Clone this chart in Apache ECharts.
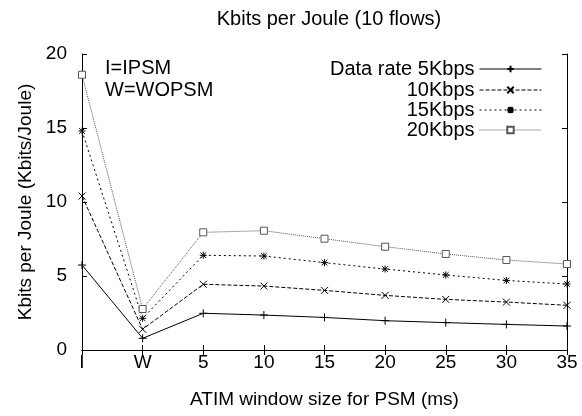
<!DOCTYPE html>
<html>
<head>
<meta charset="utf-8">
<script src="https://cdn.jsdelivr.net/npm/echarts@6/dist/echarts.min.js"></script>
<style>
  html, body { margin: 0; padding: 0; background: #fff; }
  #main { width: 582px; height: 416px; }
</style>
</head>
<body>
<div id="main"></div>
<script>
const categories = ["I", "W", "5", "10", "15", "20", "25", "30", "35"]
const rate5 = [5.74, 0.79, 2.48, 2.36, 2.2, 1.98, 1.85, 1.73, 1.62]
const rate10 = [10.4, 1.4, 4.44, 4.32, 4.03, 3.69, 3.42, 3.24, 3.02]
const rate15 = [14.8, 2.14, 6.4, 6.35, 5.9, 5.47, 5.07, 4.7, 4.46]
const rate20 = [18.6, 2.77, 7.95, 8.06, 7.52, 6.98, 6.49, 6.08, 5.81]
const seriesNames = ["Data rate 5Kbps", "10Kbps", "15Kbps", "20Kbps"]

const FONT = "Liberation Sans, Arial, Helvetica, sans-serif"

const plusPath = "path://M0,5L10,5M5,0L5,10"
const crossPath = "path://M0,0L10,10M10,0L0,10"
const starPath = "path://M0,5L10,5M5,0L5,10M1,1L9,9M9,1L1,9"

function makeSeries(name, data, symbol, size, color, dash, fill) {
  return {
    name: name,
    type: "line",
    data: data,
    symbol: symbol,
    symbolSize: size,
    showAllSymbol: true,
    lineStyle: { color: color, width: 1, type: dash },
    itemStyle: { color: fill, borderColor: color, borderWidth: 1 },
    emphasis: { disabled: true },
    animation: false,
  }
}

// one legend per row so every label is right aligned like gnuplot's key
function legendRow(name, top) {
  return {
    data: [name],
    right: 40,
    top: top,
    padding: 0,
    orient: "vertical",
    align: "right",
    itemWidth: 62,
    itemHeight: 8,
    itemGap: 0,
    selectedMode: false,
    lineStyle: { width: 1 },
    textStyle: { fontFamily: FONT, fontSize: 20, color: "#000" },
  }
}

let myChart = echarts.init(document.getElementById("main"))
myChart.setOption({
  backgroundColor: "#fff",
  title: {
    text: "Kbits per Joule (10 flows)",
    left: 324,
    top: 4,
    textAlign: "center",
    textStyle: { fontFamily: FONT, fontSize: 20, fontWeight: "normal", color: "#000" },
  },
  legend: [
    legendRow(seriesNames[0], 59),
    legendRow(seriesNames[1], 80),
    legendRow(seriesNames[2], 100),
    legendRow(seriesNames[3], 120),
  ],
  grid: { left: 82, right: 15, top: 54, bottom: 66 },
  xAxis: [
    {
      type: "category",
      data: categories,
      boundaryGap: false,
      name: "ATIM window size for PSM (ms)",
      nameLocation: "middle",
      nameGap: 40,
      nameTextStyle: { fontFamily: FONT, fontSize: 19, color: "#000" },
      axisLine: { lineStyle: { color: "#000", width: 1 } },
      axisTick: { inside: true, length: 5, alignWithLabel: true, lineStyle: { color: "#000" } },
      axisLabel: { fontFamily: FONT, fontSize: 19, color: "#000", margin: 3 },
      splitLine: { show: false },
    },
    {
      type: "category",
      data: categories,
      boundaryGap: false,
      position: "top",
      axisLine: { lineStyle: { color: "#000", width: 1 } },
      axisTick: { inside: true, length: 5, lineStyle: { color: "#000" } },
      axisLabel: { show: false },
      splitLine: { show: false },
    },
  ],
  yAxis: [
    {
      type: "value",
      min: 0,
      max: 20,
      interval: 5,
      name: "Kbits per Joule (Kbits/Joule)",
      nameLocation: "middle",
      nameRotate: 90,
      nameGap: 39,
      nameTextStyle: { fontFamily: FONT, fontSize: 19, color: "#000" },
      axisLine: { show: true, lineStyle: { color: "#000", width: 1 } },
      axisTick: { show: true, inside: true, length: 5, lineStyle: { color: "#000" } },
      axisLabel: { fontFamily: FONT, fontSize: 19, color: "#000", margin: 15 },
      splitLine: { show: false },
    },
    {
      type: "value",
      min: 0,
      max: 20,
      interval: 5,
      position: "right",
      axisLine: { show: true, lineStyle: { color: "#000", width: 1 } },
      axisTick: { show: true, inside: true, length: 5, lineStyle: { color: "#000" } },
      axisLabel: { show: false },
      splitLine: { show: false },
    },
  ],
  graphic: [
    { type: "text", x: 105, y: 68, style: { text: "I=IPSM", font: "20px " + FONT, fill: "#000", verticalAlign: "middle" } },
    { type: "text", x: 105, y: 90, style: { text: "W=WOPSM", font: "20px " + FONT, fill: "#000", verticalAlign: "middle" } },
  ],
  series: [
    makeSeries(seriesNames[0], rate5, plusPath, 8, "#000", "solid", "#000"),
    makeSeries(seriesNames[1], rate10, crossPath, 7, "#000", [4, 2], "#000"),
    makeSeries(seriesNames[2], rate15, starPath, 7, "#000", [2, 3], "#000"),
    makeSeries(seriesNames[3], rate20, "rect", 7, "#555", [1, 1], "#fff"),
  ],
})

window.addEventListener("resize", () => {
  myChart.resize()
})
</script>
</body>
</html>
